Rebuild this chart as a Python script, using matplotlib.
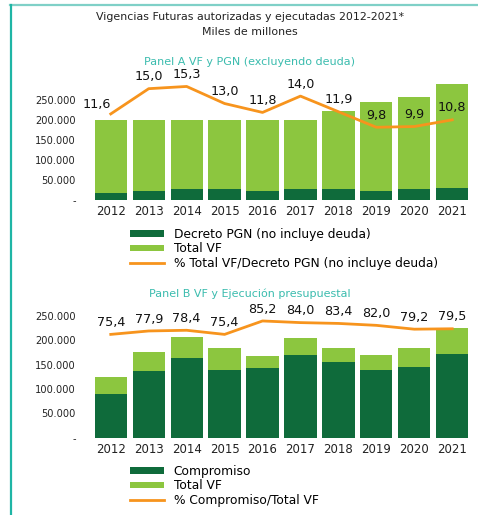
import matplotlib
matplotlib.use("Agg")
import matplotlib.pyplot as plt
from matplotlib.lines import Line2D
from matplotlib.ticker import FuncFormatter

# datos (miles de millones)
years = [2012, 2013, 2014, 2015, 2016, 2017, 2018, 2019, 2020, 2021]
a_decreto = [16700, 23300, 27500, 26700, 23300, 27500, 26700, 23300, 26700, 30800]
a_total_vf = [200000, 200000, 200000, 200000, 200000, 200000, 222500, 245800, 258000, 289000]
a_pct = [11.6, 15.0, 15.3, 13.0, 11.8, 14.0, 11.9, 9.8, 9.9, 10.8]

b_compromiso = [89200, 136500, 163200, 139900, 143300, 170100, 155000, 139900, 144700, 172800]
b_total_vf = [124100, 177000, 207200, 184500, 167300, 204300, 185200, 169400, 183800, 225700]
b_pct = [75.4, 77.9, 78.4, 75.4, 85.2, 84.0, 83.4, 82.0, 79.2, 79.5]

DARK = '#0f6b3b'
LIGHT = '#8cc63f'
ORANGE = '#f7941d'
TEAL = '#3bbcae'

plt.rcParams['font.family'] = ['DejaVu Sans']

W, H = 478, 515
fig = plt.figure(figsize=(W / 100, H / 100), dpi=100)


def miles(v, pos):
    if v == 0:
        return '-'
    return f'{v:,.0f}'.replace(',', '.')


def fmt_pct(v):
    return f'{v:.1f}'.replace('.', ',')


def panel(bottom_px, height_px, ymax, pmax, low, high, pct, labels):
    ax = fig.add_axes([88 / W, 1 - bottom_px / H, 390 / W, height_px / H])
    x = range(len(years))
    b_high = ax.bar(x, high, width=0.85, color=LIGHT, zorder=2)
    b_low = ax.bar(x, low, width=0.85, color=DARK, zorder=3)
    ax.set_xlim(-0.6, 9.68)
    ax.set_ylim(0, ymax)
    ax.set_yticks(range(0, 250001, 50000))
    ax.yaxis.set_major_formatter(FuncFormatter(miles))
    ax.set_xticks(list(x))
    ax.set_xticklabels([str(y) for y in years])
    ax.tick_params(axis='y', length=0, pad=8.6, labelsize=7.1, labelcolor='#222222')
    ax.tick_params(axis='x', length=0, pad=3.5, labelsize=8.5, labelcolor='#222222')
    for s in ax.spines.values():
        s.set_visible(False)

    ax2 = ax.twinx()
    ln, = ax2.plot(list(x), pct, color=ORANGE, lw=2, zorder=4)
    ax2.set_ylim(0, pmax)
    ax2.axis('off')
    for i, v in enumerate(pct):
        off = (0, 8.6)
        if labels == 'A' and i == 0:
            off = (-10, 6.5)
        ax2.annotate(fmt_pct(v), (i, v), xytext=off, textcoords='offset points',
                     ha='center', va='center', fontsize=9.2, color='#111111')
    return b_low, b_high, ln


# Panel A
la, ha_, lna = panel(200, 120, 300000, 16.17, a_decreto, a_total_vf, a_pct, 'A')
# Panel B
lb, hb, lnb = panel(437.7, 137.7, 283333, 100.5, b_compromiso, b_total_vf, b_pct, 'B')

leg_kw = dict(loc='upper left', frameon=False, fontsize=8.8, handlelength=2.75,
              handleheight=0.5, labelspacing=0.1, handletextpad=0.8, borderpad=0)
fig.legend([la, ha_, lna], ['Decreto PGN (no incluye deuda)', 'Total VF',
                            '% Total VF/Decreto PGN (no incluye deuda)'],
           bbox_to_anchor=(124 / W, 1 - 222 / H), **leg_kw)
fig.legend([lb, hb, lnb], ['Compromiso', 'Total VF', '% Compromiso/Total VF'],
           bbox_to_anchor=(124 / W, 1 - 459 / H), **leg_kw)

# titulos
fig.text(250 / W, 1 - 17 / H, 'Vigencias Futuras autorizadas y ejecutadas 2012-2021*',
         ha='center', va='center', fontsize=7.9, color='#222222')
fig.text(250 / W, 1 - 32 / H, 'Miles de millones', ha='center', va='center',
         fontsize=7.9, color='#222222')
fig.text(250 / W, 1 - 62 / H, 'Panel A VF y PGN (excluyendo deuda)', ha='center',
         va='center', fontsize=8, color=TEAL)
fig.text(250 / W, 1 - 294 / H, 'Panel B VF y Ejecución presupuestal', ha='center',
         va='center', fontsize=8, color=TEAL)

# marco
fig.add_artist(Line2D([10 / W, 1], [1 - 5 / H, 1 - 5 / H], color='#7fd0c7', lw=1.6))
fig.add_artist(Line2D([10.5 / W, 10.5 / W], [0, 1 - 5 / H], color='#1fb5a5', lw=1.6))

fig.savefig('out.png', dpi=100)
